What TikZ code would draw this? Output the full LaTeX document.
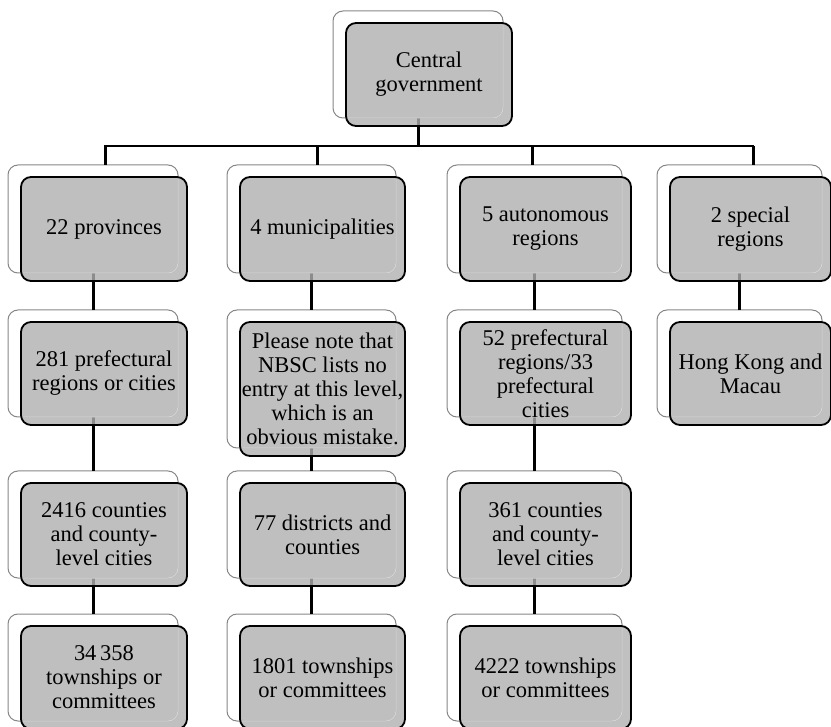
\documentclass[tikz,border=0pt]{standalone}
\usepackage{fontspec}
\setmainfont{Liberation Serif}
\definecolor{backgray}{RGB}{135,135,135}
\definecolor{innergray}{RGB}{212,212,212}
\definecolor{boxgray}{RGB}{176,176,176}
\pgfdeclarelayer{backl}
\pgfdeclarelayer{topl}
\pgfsetlayers{backl,main,topl}
\tikzset{
  backbox/.style={draw=backgray, fill=white, line width=1pt, rounded corners=10pt, inner sep=0pt, outer sep=0pt},
  frontfill/.style={fill=boxgray, fill opacity=0.8, rounded corners=10pt, inner sep=0pt, outer sep=0pt},
  innerline/.style={draw=innergray, line width=1pt, rounded corners=10pt},
  borderline/.style={draw=black, line width=1.8pt, rounded corners=10pt},
  txt/.style={align=center, inner sep=0pt, text=black, font={\fontsize{22.5}{24}\selectfont}},
  conn/.style={draw=black, line width=3pt},
  busline/.style={draw=black, line width=2pt},
}
% #1 name, #2 left, #3 top, #4 right, #5 bottom (of back box), #6 text
\newcommand\orgnode[6]{%
  \begin{pgfonlayer}{backl}
    \node[backbox, minimum width={#4-#2}, minimum height={#5-#3}] (#1b) at ({(#2+#4)/2},{(#3+#5)/2}) {};
  \end{pgfonlayer}
  \node[frontfill, minimum width={#4-#2-4}, minimum height={#5-#3-4}] (#1) at ({(#2+#4)/2+11},{(#3+#5)/2+10}) {};
  \begin{pgfonlayer}{topl}
    \begin{scope}
      \clip[rounded corners=10pt] (#1.south west) rectangle (#1.north east);
      \draw[innerline] (#1b.south west) rectangle (#1b.north east);
    \end{scope}
    \draw[borderline] (#1.south west) rectangle (#1.north east);
    \node[txt] (#1t) at (#1.center) {#6};
  \end{pgfonlayer}
}
\begin{document}
\begin{tikzpicture}[x=1pt,y=-1pt]
\useasboundingbox (0,0) rectangle (831,727);
% top
\orgnode{C}{333}{11}{503}{118}{Central\\government}
% row 1
\orgnode{A1}{8}{165}{178}{273}{22 provinces}
\orgnode{B1}{227}{165}{396}{273}{4 municipalities}
\orgnode{D1}{447}{165}{622}{273}{5 autonomous\\regions}
\orgnode{E1}{657}{165}{822}{273}{2 special\\regions}
% row 2
\orgnode{A2}{8}{310}{178}{417}{281 prefectural\\regions or cities}
\orgnode{B2}{227}{310}{396}{448}{Please note that\\NBSC lists no\\entry at this level,\\which is an\\obvious mistake.}
\orgnode{D2}{447}{310}{622}{417}{52 prefectural\\regions/33\\prefectural\\cities}
\orgnode{E2}{657}{310}{822}{417}{Hong Kong and\\Macau}
% row 3
\orgnode{A3}{8}{471}{178}{578}{2416 counties\\and county-\\level cities}
\orgnode{B3}{227}{471}{396}{578}{77 districts and\\counties}
\orgnode{D3}{447}{471}{622}{578}{361 counties\\and county-\\level cities}
% row 4
\orgnode{A4}{8}{614}{178}{721}{34\,358\\townships or\\committees}
\orgnode{B4}{227}{614}{396}{721}{1801 townships\\or committees}
\orgnode{D4}{447}{614}{622}{721}{4222 townships\\or committees}
% connectors
\begin{pgfonlayer}{backl}
\coordinate (bus) at (418,146);
\coordinate (d1) at (105,146);
\coordinate (d2) at (317,146);
\coordinate (d3) at (532,146);
\coordinate (d4) at (753,146);
\draw[conn] (Cb.south) -- (bus);
\draw[busline] ([xshift=-1pt]d1) -- ([xshift=1pt]d4);
\draw[conn] (d1) -- (d1 |- A1b.north);
\draw[conn] (d2) -- (d2 |- B1b.north);
\draw[conn] (d3) -- (d3 |- D1b.north);
\draw[conn] (d4) -- (d4 |- E1b.north);
\draw[conn] (A1b.south) -- (A2b.north);
\draw[conn] (A2b.south) -- (A3b.north);
\draw[conn] (A3b.south) -- (A4b.north);
\draw[conn] (B1b.south) -- (B2b.north);
\draw[conn] (B2b.south) -- (B3b.north);
\draw[conn] (B3b.south) -- (B4b.north);
\draw[conn] (D1b.south) -- (D2b.north);
\draw[conn] (D2b.south) -- (D3b.north);
\draw[conn] (D3b.south) -- (D4b.north);
\draw[conn] (E1b.south) -- (E2b.north);
\end{pgfonlayer}
\end{tikzpicture}
\end{document}
